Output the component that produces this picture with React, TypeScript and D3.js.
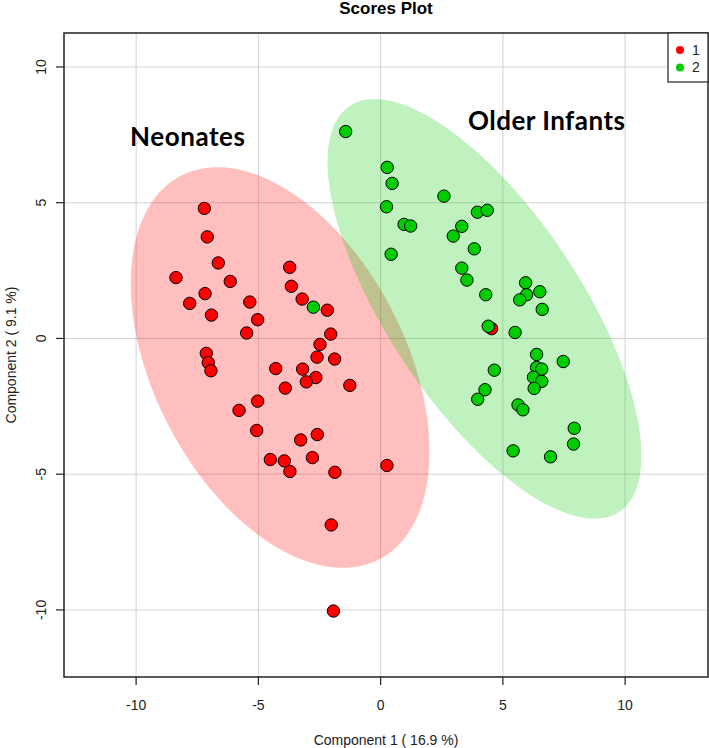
import React from 'react';
import * as d3 from 'd3';

// scores, [component 1, component 2]
const neonates: [number, number][] = [
  [-7.21, 4.79], [-7.09, 3.74], [-6.64, 2.78], [-8.37, 2.24], [-6.15, 2.10],
  [-7.18, 1.65], [-7.81, 1.29], [-5.35, 1.34], [-6.92, 0.86], [-5.03, 0.69],
  [-5.48, 0.20], [-3.72, 2.62], [-3.65, 1.92], [-3.21, 1.45], [-2.18, 1.04],
  [-2.04, 0.16], [-2.48, -0.22], [-2.60, -0.69], [-1.88, -0.76], [-7.13, -0.55],
  [-7.05, -0.89], [-6.94, -1.19], [-4.29, -1.11], [-3.19, -1.13], [-2.65, -1.44],
  [-3.04, -1.60], [-3.90, -1.83], [-1.26, -1.73], [-5.03, -2.31], [-5.79, -2.65],
  [-5.07, -3.39], [-3.27, -3.74], [-2.59, -3.54], [-2.79, -4.39], [-4.51, -4.46],
  [-3.94, -4.51], [-3.71, -4.90], [-1.87, -4.93], [0.26, -4.68], [-2.02, -6.87],
  [-1.93, -10.04], [4.54, 0.36],
];

const olderInfants: [number, number][] = [
  [-1.43, 7.62], [0.27, 6.30], [0.47, 5.71], [0.24, 4.85], [0.96, 4.20],
  [1.23, 4.14], [0.43, 3.10], [2.59, 5.24], [3.32, 4.13], [2.97, 3.77],
  [3.96, 4.65], [4.36, 4.72], [3.83, 3.30], [3.32, 2.59], [3.53, 2.15],
  [-2.75, 1.15], [4.30, 1.61], [5.93, 2.05], [5.97, 1.61], [5.69, 1.42],
  [6.51, 1.72], [6.61, 1.07], [4.40, 0.45], [5.50, 0.22], [6.38, -0.59],
  [7.47, -0.85], [4.65, -1.17], [6.38, -1.07], [6.59, -1.13], [6.25, -1.43],
  [6.59, -1.58], [6.28, -1.84], [4.27, -1.89], [3.97, -2.24], [5.62, -2.45],
  [5.82, -2.63], [7.92, -3.31], [7.89, -3.89], [5.42, -4.14], [6.95, -4.36],
];

// confidence regions: centre, half width, half height, correlation
const ellipses = [
  { group: '1', cx: -4.11, cy: -1.07, rx: 6.11, ry: 7.38, rho: -0.42 },
  { group: '2', cx: 4.25, cy: 1.09, rx: 6.42, ry: 7.73, rho: -0.7 },
];

const groups = ['1', '2'];
const groupColors = ['#FF0000', '#00CD00'];
const xTicks = [-10, -5, 0, 5, 10];
const yTicks = [-10, -5, 0, 5, 10];

const W = 709;
const H = 748;
const box = { left: 64, right: 708, top: 33, bottom: 677 };
const font = '"Liberation Sans", Arial, sans-serif';

export default function App() {
  const x = d3.scaleLinear().domain([-12.95, 13.39]).range([box.left, box.right]);
  const y = d3.scaleLinear().domain([-12.47, 11.25]).range([box.bottom, box.top]);

  const ellipsePath = (e: typeof ellipses[number]) => {
    const pts: [number, number][] = d3.range(0, 361, 3).map((deg) => {
      const t = (deg * Math.PI) / 180;
      const ex = e.cx + e.rx * Math.cos(t);
      const ey = e.cy + e.ry * (e.rho * Math.cos(t) + Math.sqrt(1 - e.rho * e.rho) * Math.sin(t));
      return [x(ex), y(ey)];
    });
    return d3.line().curve(d3.curveLinearClosed)(pts) || '';
  };

  const color = d3.scaleOrdinal<string, string>().domain(groups).range(groupColors);

  return (
    <svg width={W} height={H} style={{ position: 'absolute', left: 0, top: 0, background: '#fff' }}
      fontFamily={font}>
      <rect x={0} y={0} width={W} height={H} fill="#fff" />
      <text x={(box.left + box.right) / 2} y={14} textAnchor="middle" fontSize={17} fontWeight="bold">
        Scores Plot
      </text>

      {/* grid */}
      <g stroke="#D3D3D3" strokeWidth={1}>
        {xTicks.map((t) => (
          <line key={'gx' + t} x1={x(t)} x2={x(t)} y1={box.top} y2={box.bottom} />
        ))}
        {yTicks.map((t) => (
          <line key={'gy' + t} x1={box.left} x2={box.right} y1={y(t)} y2={y(t)} />
        ))}
      </g>

      {/* ellipses */}
      {ellipses.map((e) => (
        <path key={e.group} d={ellipsePath(e)} fill={color(e.group)} fillOpacity={0.25} stroke="none" />
      ))}

      {/* points */}
      <g stroke="#000" strokeWidth={1}>
        {neonates.map((d, i) => (
          <circle key={'n' + i} cx={x(d[0])} cy={y(d[1])} r={6.2} fill={color('1')} />
        ))}
        {olderInfants.map((d, i) => (
          <circle key={'o' + i} cx={x(d[0])} cy={y(d[1])} r={6.2} fill={color('2')} />
        ))}
      </g>

      {/* box */}
      <rect x={box.left} y={box.top} width={box.right - box.left} height={box.bottom - box.top}
        fill="none" stroke="#222" strokeWidth={1.5} />

      {/* x axis */}
      <g fontSize={14} fill="#222">
        {xTicks.map((t) => (
          <g key={'xt' + t}>
            <line x1={x(t)} x2={x(t)} y1={box.bottom} y2={box.bottom + 8} stroke="#222" strokeWidth={1.2} />
            <text x={x(t)} y={710} textAnchor="middle">{t}</text>
          </g>
        ))}
        <text x={(box.left + box.right) / 2} y={745} textAnchor="middle">Component 1 ( 16.9 %)</text>
      </g>

      {/* y axis */}
      <g fontSize={14} fill="#222">
        {yTicks.map((t) => (
          <g key={'yt' + t}>
            <line x1={box.left - 8} x2={box.left} y1={y(t)} y2={y(t)} stroke="#222" strokeWidth={1.2} />
            <text transform={`translate(41,${y(t)}) rotate(-90)`} textAnchor="middle" dy="0.35em">{t}</text>
          </g>
        ))}
        <text transform={`translate(11,${(box.top + box.bottom) / 2}) rotate(-90)`} textAnchor="middle" dy="0.35em">
          Component 2 ( 9.1 %)
        </text>
      </g>

      {/* legend */}
      <g>
        <rect x={668} y={box.top} width={box.right - 668} height={49} fill="#fff" stroke="#222" strokeWidth={1.2} />
        {groups.map((g, i) => (
          <g key={'lg' + g}>
            <circle cx={680} cy={50 + i * 17.5} r={4} fill={color(g)} />
            <text x={692} y={50 + i * 17.5} dy="0.35em" fontSize={14} fill="#222">{g}</text>
          </g>
        ))}
      </g>

      {/* group labels */}
      <g fontFamily='Lato, "Open Sans", sans-serif' fontWeight="bold" fontSize={26} fill="#000">
        <text x={130} y={146} textLength={115} lengthAdjust="spacing">Neonates</text>
        <text x={468} y={130} textLength={157} lengthAdjust="spacing">Older Infants</text>
      </g>
    </svg>
  );
}
